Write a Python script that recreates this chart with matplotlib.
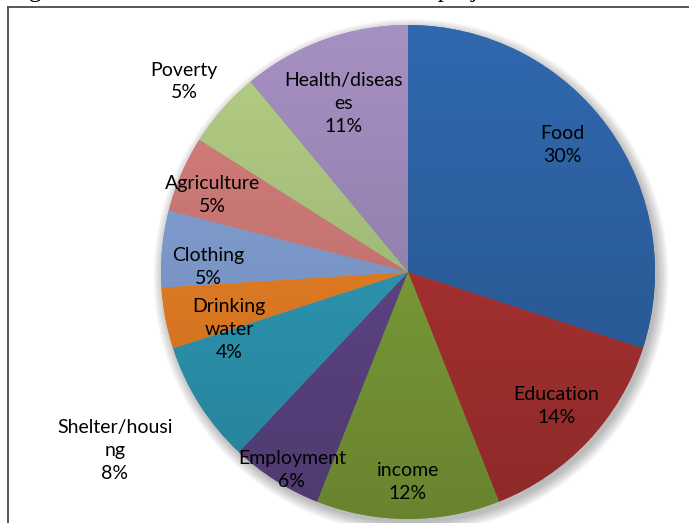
import numpy as np
import matplotlib
matplotlib.use('Agg')
import matplotlib.pyplot as plt
from matplotlib.colors import to_rgb
from matplotlib.lines import Line2D
from matplotlib.patches import Circle

categories = ['Food', 'Education', 'income', 'Employment', 'Shelter/housing',
              'Drinking water', 'Clothing', 'Agriculture', 'Poverty', 'Health/diseases']
shares = [30, 14, 12, 6, 8, 4, 5, 5, 5, 11]
# labels wrapped the way the text boxes break them
label_text = ['Food', 'Education', 'income', 'Employment', 'Shelter/housi\nng',
              'Drinking\nwater', 'Clothing', 'Agriculture', 'Poverty', 'Health/diseas\nes']
colors = ['#2d61a2', '#a83231', '#7c9d38', '#5e4585', '#2e98b4',
          '#e67e24', '#7f9cce', '#ca7875', '#a8c17c', '#9a86b5']
caption = 'Figure 3: The kinds of interventions in the project area'

W, H = 689, 523
fig = plt.figure(figsize=(W / 100, H / 100), dpi=100)
fig.patch.set_facecolor('white')

cx, cy, r = 408, 272, 247
ax = fig.add_axes([(cx - r) / W, (H - cy - r) / H, 2 * r / W, 2 * r / H])

# soft drop shadow under the pie
for k in range(8):
    ax.add_patch(Circle((0.012, -0.018), 1.0 + 0.006 * k, color='black',
                        alpha=0.035, lw=0, zorder=0, clip_on=False))

wedges, _ = ax.pie(shares, startangle=90, counterclock=False, colors=colors,
                   radius=1, wedgeprops=dict(linewidth=0))

# vertical light-to-dark shading on every slice
shade = np.linspace(0.84, 1.08, 256)
for w, c in zip(wedges, colors):
    img = np.clip(np.array(to_rgb(c))[None, None, :] * shade[:, None, None], 0, 1)
    im = ax.imshow(img, extent=(-1, 1, -1, 1), origin='lower', aspect='auto',
                   interpolation='bilinear', zorder=w.get_zorder() + 0.1)
    im.set_clip_path(w)

ax.set_xlim(-1, 1)
ax.set_ylim(-1, 1)
ax.set_axis_off()

# data labels: name + percentage, placed along each slice's mid angle
dist = [0.81, 0.81, 0.85, 0.93, 1.39, 0.76, 0.81, 0.85, 1.19, 0.73]
nudge = [3.4, 1, 0, 2, -1, 7, 4, 2, 1, 1]
cum = np.cumsum(shares)
for i, (s, lab) in enumerate(zip(shares, label_text)):
    ang = np.deg2rad(90 - 360 * (cum[i] - s / 2) / 100 + nudge[i])
    ax.text(dist[i] * np.cos(ang), dist[i] * np.sin(ang), f'{lab}\n{s}%',
            ha='center', va='center', family='Lato', fontsize=14,
            linespacing=1.42, color='black', zorder=5, clip_on=False)

# border of the chart area and the caption line above it
fig.add_artist(Line2D([8 / W, 8 / W], [0, 1 - 7 / H], transform=fig.transFigure,
                      color='#4a4a4a', lw=1.3))
fig.add_artist(Line2D([8 / W, 1], [1 - 7 / H, 1 - 7 / H], transform=fig.transFigure,
                      color='#4a4a4a', lw=1.3))
fig.text(8 / W, 1 + 2.5 / H, caption, family='Liberation Serif', fontsize=18,
         ha='left', va='baseline', color='black')

fig.savefig('out.png', dpi=100)
